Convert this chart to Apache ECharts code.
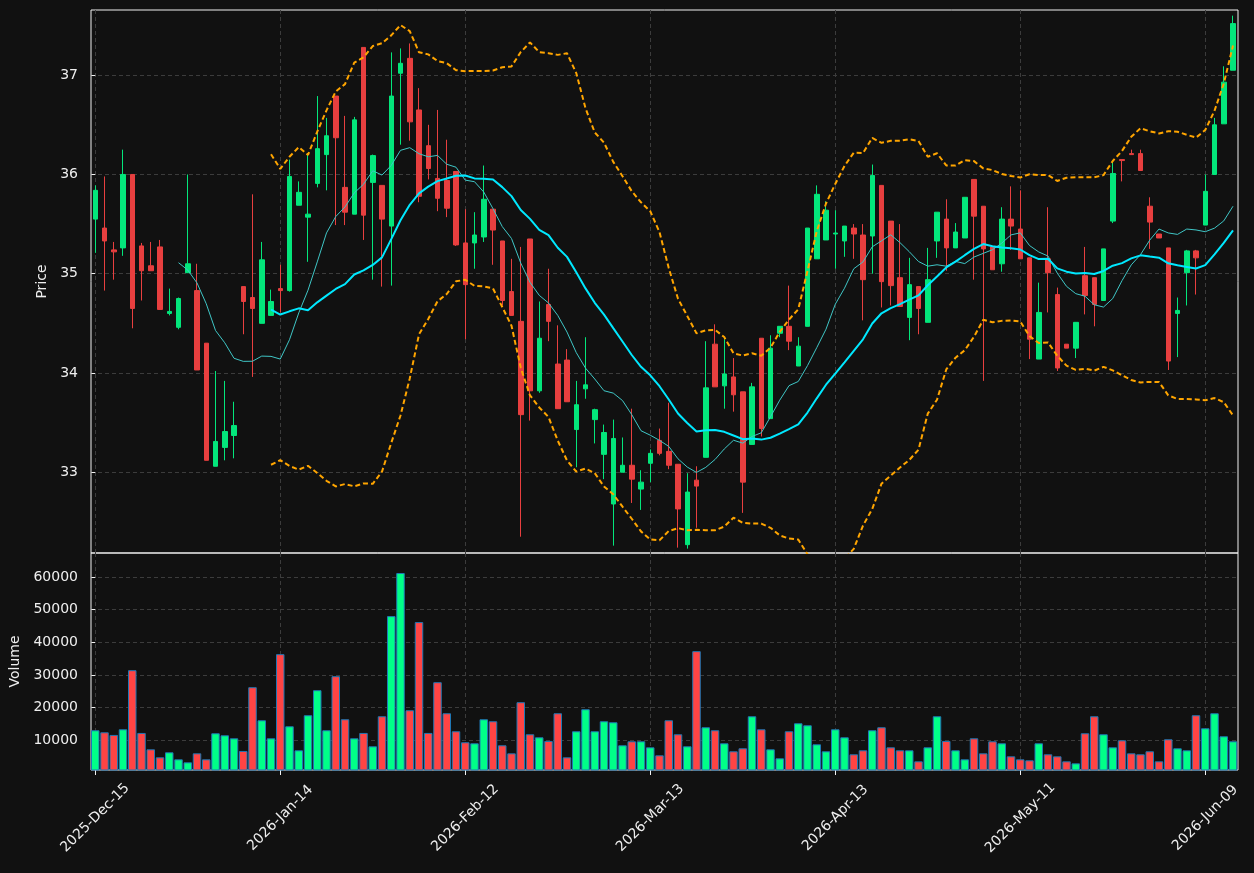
<!DOCTYPE html>
<html lang="en">
<head>
    <meta charset="UTF-8">
    <title>Price / Volume</title>
    <script src="https://cdn.jsdelivr.net/npm/echarts@6/dist/echarts.min.js"></script>
    <style>
        html, body { margin: 0; padding: 0; background: #111111; }
        #main { width: 1254px; height: 873px; }
    </style>
</head>
<body>
    <div id="main"></div>
    <script type="text/javascript">
        // tick labels, one every 20 bars
        var tickLabels = ['2025-Dec-15', '2026-Jan-14', '2026-Feb-12', '2026-Mar-13', '2026-Apr-13', '2026-May-11', '2026-Jun-09'];

        // daily OHLC
        var openP = [
            35.55, 35.46, 35.24, 35.26, 36.00, 35.28, 35.08, 35.27, 34.60, 34.46,
            35.01, 34.83, 34.30, 33.06, 33.25, 33.37, 34.87, 34.76, 34.50, 34.58,
            34.85, 34.83, 35.69, 35.57, 35.91, 36.20, 36.79, 35.87, 35.60, 37.28,
            35.92, 35.89, 35.48, 37.02, 37.17, 36.65, 36.29, 35.96, 35.94, 36.03,
            35.31, 35.31, 35.37, 35.65, 35.33, 34.82, 34.52, 35.35, 33.82, 34.69,
            34.09, 34.13, 33.43, 33.84, 33.53, 33.18, 32.68, 33.00, 33.07, 32.83,
            33.09, 33.32, 33.21, 33.08, 32.27, 32.92, 33.15, 34.29, 33.87, 33.96,
            33.81, 33.28, 34.35, 33.54, 34.40, 34.47, 34.07, 34.47, 35.15, 35.34,
            35.40, 35.33, 35.46, 35.39, 35.38, 35.89, 35.53, 34.96, 34.56, 34.87,
            34.51, 35.33, 35.55, 35.26, 35.36, 35.95, 35.68, 35.27, 35.10, 35.55,
            35.45, 35.16, 34.14, 35.15, 34.79, 34.29, 34.25, 34.98, 34.96, 34.73,
            35.53, 36.15, 36.21, 36.21, 35.68, 35.40, 35.26, 34.60, 35.01, 35.23,
            35.49, 36.00, 36.51, 37.05
        ];
        var closeP = [
            35.84, 35.33, 35.22, 36.00, 34.65, 35.03, 35.03, 34.64, 34.62, 34.75,
            35.10, 34.03, 33.12, 33.31, 33.41, 33.47, 34.72, 34.65, 35.14, 34.72,
            34.83, 35.98, 35.82, 35.60, 36.26, 36.39, 36.37, 35.62, 36.55, 35.59,
            36.19, 35.55, 36.79, 37.12, 36.53, 35.78, 36.06, 35.76, 35.66, 35.29,
            34.89, 35.39, 35.75, 35.44, 34.73, 34.58, 33.58, 33.82, 34.35, 34.52,
            33.64, 33.71, 33.68, 33.88, 33.63, 33.40, 33.34, 33.07, 32.93, 32.90,
            33.19, 33.19, 33.07, 32.63, 32.80, 32.86, 33.85, 33.86, 33.99, 33.78,
            32.90, 33.86, 33.44, 34.25, 34.47, 34.32, 34.27, 35.46, 35.80, 35.64,
            35.41, 35.48, 35.40, 34.94, 35.99, 34.92, 34.88, 34.67, 34.89, 34.65,
            34.94, 35.62, 35.26, 35.42, 35.77, 35.58, 35.25, 35.04, 35.55, 35.48,
            35.15, 34.34, 34.61, 35.01, 34.05, 34.25, 34.51, 34.78, 34.69, 35.25,
            36.01, 36.14, 36.20, 36.04, 35.52, 35.36, 34.12, 34.63, 35.23, 35.16,
            35.83, 36.50, 36.93, 37.52
        ];
        var lowP = [
            35.21, 34.83, 34.94, 35.18, 34.45, 34.73, 35.03, 34.64, 34.58, 34.44,
            35.01, 34.03, 33.12, 33.06, 33.12, 33.14, 34.39, 33.96, 34.50, 34.58,
            34.61, 34.82, 35.69, 35.12, 35.87, 35.84, 35.49, 35.49, 35.60, 35.34,
            34.94, 34.87, 34.88, 36.30, 36.34, 35.72, 35.95, 35.63, 35.57, 35.28,
            34.34, 35.05, 35.32, 35.09, 34.68, 34.58, 32.35, 33.52, 33.80, 34.32,
            33.64, 33.71, 33.05, 33.74, 33.29, 32.93, 32.26, 33.00, 32.69, 32.62,
            32.90, 33.17, 33.03, 32.24, 32.23, 32.44, 33.15, 33.86, 33.64, 33.61,
            32.59, 33.28, 33.36, 33.54, 34.36, 34.23, 34.07, 34.47, 35.15, 35.34,
            35.05, 35.17, 35.15, 34.53, 35.00, 34.66, 34.68, 34.67, 34.33, 34.39,
            34.51, 35.16, 35.03, 35.26, 35.36, 34.94, 33.92, 35.04, 35.02, 35.24,
            35.15, 34.14, 34.14, 34.61, 34.02, 34.25, 34.15, 34.59, 34.47, 34.73,
            35.51, 35.93, 36.20, 36.04, 35.25, 35.36, 34.03, 34.16, 34.68, 34.79,
            35.49, 36.00, 36.51, 37.05
        ];
        var highP = [
            35.89, 35.98, 35.32, 36.25, 36.00, 35.31, 35.32, 35.34, 34.85, 34.76,
            36.00, 35.10, 34.30, 34.02, 33.92, 33.71, 34.87, 35.80, 35.32, 34.84,
            35.09, 36.15, 35.93, 36.21, 36.79, 36.57, 36.79, 36.59, 36.58, 37.28,
            36.20, 35.89, 37.23, 37.27, 37.32, 36.87, 36.50, 36.65, 36.35, 36.03,
            35.65, 35.62, 36.09, 35.65, 35.33, 35.15, 35.27, 35.35, 34.72, 35.05,
            34.48, 34.24, 33.92, 34.36, 33.64, 33.48, 33.53, 33.35, 33.64, 33.02,
            33.23, 33.44, 33.70, 33.08, 32.99, 33.06, 34.32, 34.49, 34.34, 34.15,
            33.81, 33.90, 34.35, 34.38, 34.47, 34.88, 34.36, 35.46, 35.89, 35.73,
            35.64, 35.48, 35.50, 35.50, 36.10, 35.89, 35.53, 35.50, 35.16, 34.87,
            35.26, 35.62, 35.75, 35.51, 35.77, 35.95, 35.68, 35.27, 35.67, 35.88,
            35.84, 35.16, 34.91, 35.67, 34.86, 34.29, 34.51, 35.27, 34.96, 35.25,
            36.14, 36.15, 36.25, 36.25, 35.77, 35.40, 35.26, 34.76, 35.24, 35.24,
            36.00, 36.57, 37.09, 37.60
        ];
        var volume = [
            13070, 12450, 11640, 13370, 31470, 12250, 7240, 4790, 6320, 4170,
            3250, 6010, 4170, 12150, 11530, 10610, 6730, 26260, 16130, 10610,
            36380, 14290, 6930, 17670, 25340, 13070, 29630, 16440, 10610, 12250,
            8160, 17360, 48040, 61230, 19200, 46200, 12250, 27790, 18280, 12760,
            9390, 9080, 16440, 15830, 8470, 6010, 21660, 11840, 10920, 9800,
            18280, 4790, 12760, 19510, 12760, 15830, 15520, 8470, 9690, 9690,
            7850, 5400, 16130, 11840, 8160, 37300, 13990, 13070, 9080, 6630,
            7550, 17360, 13370, 7240, 4480, 12760, 15210, 14600, 8770, 6630,
            13370, 10920, 5710, 6930, 13070, 13990, 7850, 6930, 6930, 3560,
            7850, 17360, 9800, 6930, 4170, 10610, 6010, 9690, 9080, 5090,
            4170, 3870, 9080, 5710, 5090, 3560, 2940, 12150, 17360, 11840,
            7850, 10000, 6010, 5710, 6630, 3560, 10310, 7550, 6930, 17670,
            13680, 18280, 11230, 9690
        ];

        var upColor = '#03e67b', downColor = '#e83f3f';
        var upVol = '#00ff88', downVol = '#ff4444';
        var textColor = '#eeeeee';
        var frameColor = '#f2f2f2';
        var gridLine = {color: '#3c3c3c', type: [4, 3], width: 1};
        var splitLine = {show: true, showMinLine: false, showMaxLine: false, lineStyle: gridLine};

        // simple moving average of the closes, as [index, value]
        function movingAvg(arr, w) {
            var out = [];
            for (var i = w - 1; i < arr.length; i++) {
                var s = 0;
                for (var j = i - w + 1; j <= i; j++) s += arr[j];
                out.push([i, s / w]);
            }
            return out;
        }
        // bollinger band (population std)
        function band(arr, w, k) {
            var out = [];
            for (var i = w - 1; i < arr.length; i++) {
                var s = 0, v = 0;
                for (var j = i - w + 1; j <= i; j++) s += arr[j];
                var m = s / w;
                for (var j2 = i - w + 1; j2 <= i; j2++) v += Math.pow(arr[j2] - m, 2);
                out.push([i, m + k * Math.sqrt(v / w)]);
            }
            return out;
        }

        var candles = [];
        var volBars = [];
        for (var i = 0; i < closeP.length; i++) {
            candles.push([i, openP[i], closeP[i], lowP[i], highP[i]]);
            volBars.push({
                value: [i, volume[i]],
                itemStyle: {color: closeP[i] >= openP[i] ? upVol : downVol}
            });
        }

        // x is the bar index; labels come from tickLabels
        function xAxisFor(gridIndex, showLabels) {
            return {
                type: 'value', gridIndex: gridIndex, min: -0.46, max: 123.54,
                axisLine: {show: false},
                axisTick: {show: showLabels, length: 5, lineStyle: {color: frameColor}},
                axisLabel: {
                    show: showLabels, rotate: 45, align: 'center', verticalAlign: 'middle',
                    margin: 48, color: textColor, fontSize: 14,
                    showMinLabel: false, showMaxLabel: false,
                    formatter: function (v) { return tickLabels[Math.round(v / 20)] || ''; }
                },
                splitLine: splitLine
            };
        }

        var myChart = echarts.init(document.getElementById('main'));
        var option = {
            backgroundColor: '#111111',
            animation: false,
            textStyle: {fontFamily: 'DejaVu Sans'},
            grid: [
                {left: 91, right: 16, top: 10, height: 543, show: true, borderColor: frameColor, borderWidth: 1},
                {left: 91, right: 16, top: 553, height: 217, show: true, borderColor: frameColor, borderWidth: 1}
            ],
            xAxis: [xAxisFor(0, false), xAxisFor(1, true)],
            yAxis: [
                {
                    type: 'value', gridIndex: 0, min: 32.186, max: 37.657,
                    name: 'Price', nameLocation: 'middle', nameRotate: 90, nameGap: 38,
                    nameTextStyle: {color: textColor, fontSize: 14},
                    axisLine: {show: false},
                    axisTick: {show: true, length: 4, lineStyle: {color: frameColor}},
                    axisLabel: {color: textColor, fontSize: 14, margin: 13, showMinLabel: false, showMaxLabel: false},
                    splitLine: splitLine
                },
                {
                    type: 'value', gridIndex: 1, min: 900, max: 67360,
                    name: 'Volume', nameLocation: 'middle', nameRotate: 90, nameGap: 67,
                    nameTextStyle: {color: textColor, fontSize: 14},
                    axisLine: {show: false},
                    axisTick: {show: true, length: 4, lineStyle: {color: frameColor}},
                    axisLabel: {
                        color: textColor, fontSize: 14, margin: 13, showMinLabel: false, showMaxLabel: false,
                        formatter: function (v) { return String(v); }
                    },
                    splitLine: splitLine
                }
            ],
            series: [
                {
                    name: 'Price', type: 'candlestick', xAxisIndex: 0, yAxisIndex: 0,
                    data: candles, barWidth: 5,
                    encode: {x: 0, y: [1, 2, 3, 4]},
                    itemStyle: {color: upColor, color0: downColor, borderColor: upColor, borderColor0: downColor, borderWidth: 1}
                },
                {
                    name: 'MA10', type: 'line', xAxisIndex: 0, yAxisIndex: 0,
                    data: movingAvg(closeP, 10), showSymbol: false,
                    lineStyle: {color: '#3fc6c6', width: 1}
                },
                {
                    name: 'MA20', type: 'line', xAxisIndex: 0, yAxisIndex: 0,
                    data: movingAvg(closeP, 20), showSymbol: false,
                    lineStyle: {color: '#00e8ff', width: 2}
                },
                {
                    name: 'Upper', type: 'line', xAxisIndex: 0, yAxisIndex: 0,
                    data: band(closeP, 20, 2), showSymbol: false,
                    lineStyle: {color: '#ffa500', width: 2, type: [5, 3]}
                },
                {
                    name: 'Lower', type: 'line', xAxisIndex: 0, yAxisIndex: 0,
                    data: band(closeP, 20, -2), showSymbol: false,
                    lineStyle: {color: '#ffa500', width: 2, type: [5, 3]}
                },
                {
                    name: 'Volume', type: 'bar', xAxisIndex: 1, yAxisIndex: 1,
                    data: volBars, barWidth: 8.5,
                    itemStyle: {borderColor: '#1f77b4', borderWidth: 1}
                }
            ]
        };
        myChart.setOption(option);
    </script>
</body>
</html>
